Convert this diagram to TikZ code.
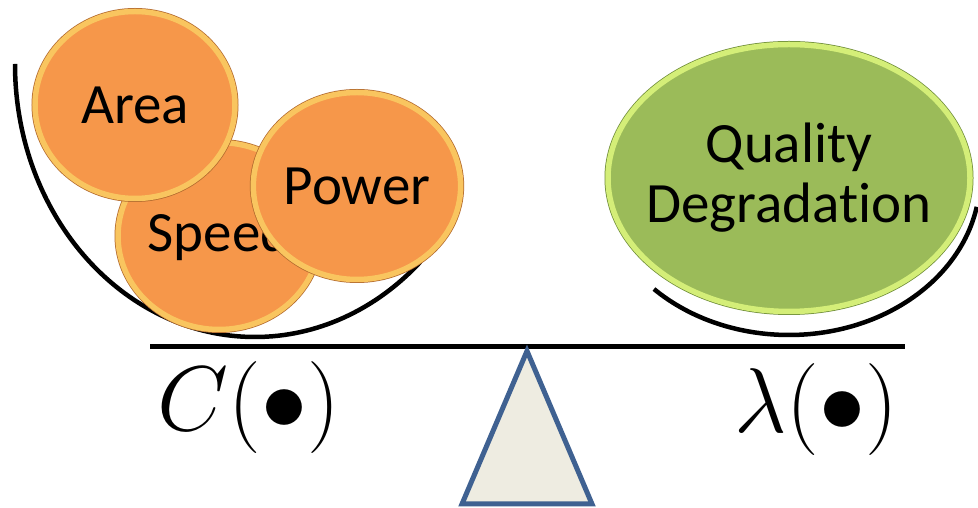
\documentclass[tikz,border=0pt]{standalone}
\usepackage{fix-cm}
\usepackage[no-math]{fontspec}
\setmainfont{Carlito}[Ligatures=NoCommon]
\usepackage{tikz}
\usetikzlibrary{shapes.geometric}
\definecolor{coinorange}{HTML}{F6974A}
\definecolor{coinrim}{HTML}{F9C55F}
\definecolor{coinedge}{HTML}{B36A2E}
\definecolor{qualgreen}{HTML}{9BBB59}
\definecolor{qualrim}{HTML}{D4EE78}
\definecolor{qualedge}{HTML}{6E8C38}
\definecolor{pivotfill}{HTML}{EEECE1}
\definecolor{pivotblue}{HTML}{3F6191}
\tikzset{
  coin/.style={ellipse,inner sep=0pt,fill=coinorange,draw=coinrim,line width=5.5pt,
    preaction={draw=coinedge,line width=7pt},font=\fontsize{57}{60}\selectfont},
  blob/.style={ellipse,inner ysep=0pt,inner xsep=-25pt,fill=qualgreen,draw=qualrim,line width=5.5pt,
    preaction={draw=qualedge,line width=7pt},align=center,font=\fontsize{57}{60}\selectfont},
  bowl/.style={line width=4.5pt},
  weight/.style={font=\fontsize{92}{100}\selectfont,anchor=base}
}
\begin{document}
\begin{tikzpicture}[x=1pt,y=1pt]
\useasboundingbox (0,0) rectangle (978,508);

\coordinate (lc) at (255,444);
\coordinate (rc) at (789,330);
\draw[bowl] (lc) ++(180:240 and 273) arc[start angle=180,end angle=313.5,x radius=240,y radius=273];
\draw[bowl] (rc) ++(225:191 and 157) arc[start angle=225,end angle=349.4,x radius=191,y radius=157];

\node[coin,minimum width=191,minimum height=187] (speed) at (219,272) {Speed};
\node[coin,minimum width=200,minimum height=187] (area) at (135,403) {Area};
\node[coin,minimum width=201,minimum height=187] (power) at (357,322) {Power};
\node[blob,minimum width=362,minimum height=267] (quality) at (rc) {Quality\\Degradation};

\coordinate (beamL) at (150,161);
\coordinate (beamR) at (905,161);
\draw[line width=5pt] (beamL) -- (beamR);

\coordinate (apex) at (527,157);
\coordinate (footL) at (462,4);
\coordinate (footR) at (592,4);
\draw[fill=pivotfill,draw=pivotblue,line width=5pt,line join=miter] (apex) -- (footR) -- (footL) -- cycle;

\node[weight] (cost) at (249,77) {$C(\bullet)$};
\node[weight] (lambda) at (816,75) {$\lambda(\bullet)$};
\end{tikzpicture}
\end{document}
